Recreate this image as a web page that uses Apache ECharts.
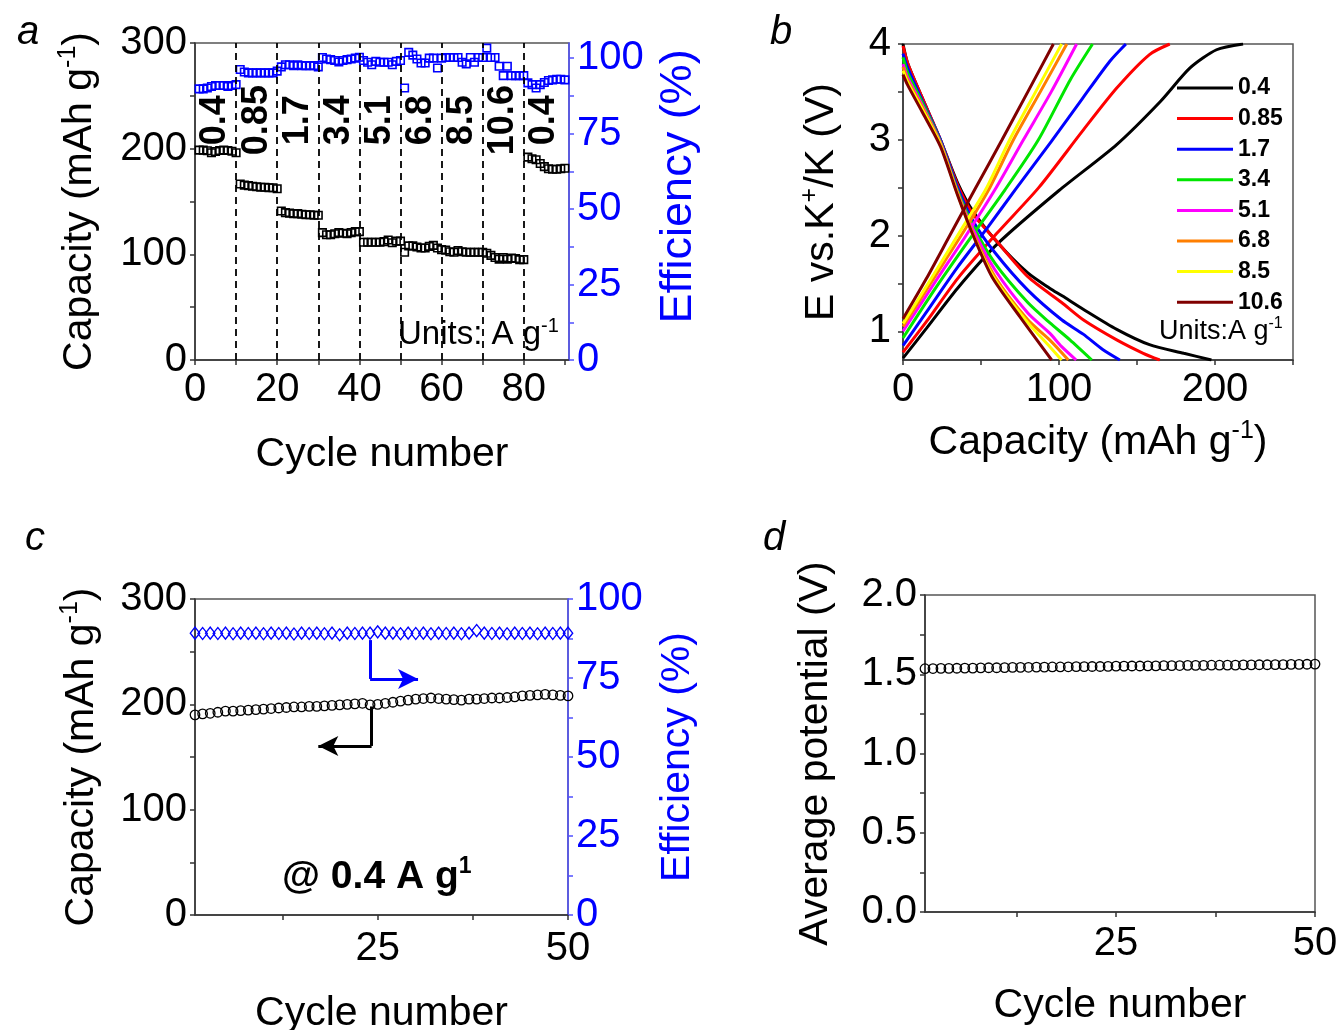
<!DOCTYPE html>
<html><head><meta charset="utf-8">
<script src="https://cdn.jsdelivr.net/npm/echarts@6/dist/echarts.min.js"></script>
<style>html,body{margin:0;padding:0;background:#fff}#c{width:1341px;height:1030px}</style>
</head><body><div id="c"></div>
<script>
// ---------- Panel a: rate capability ----------
const rateLabels = ['0.4','0.85','1.7','3.4','5.1','6.8','8.5','10.6','0.4'];
const rateDividers = [10,20,30,40,50,60,70,80];
const rateCapacity = [
 198.6,198.6,198.0,196.1,197.3,198.3,198.6,198.3,197.6,196.1,
 166.5,165.5,165.0,164.5,164.0,163.5,163.5,163.0,163.0,162.0,
 141.0,139.5,139.0,138.5,138.5,138.0,137.5,137.5,137.0,137.0,
 120.5,118.5,118.5,119.5,120.5,120.0,119.5,120.5,121.5,121.5,
 111.5,111.5,111.5,111.5,111.5,112.0,113.5,111.0,112.5,112.5,
 102.0,108.0,108.0,107.0,106.0,106.0,107.5,108.5,106.0,104.5,
 104.0,102.5,102.0,103.5,102.5,102.0,102.0,102.0,102.0,102.0,
 101.0,99.0,97.0,95.5,97.0,95.5,96.5,96.0,95.0,95.0,
 192.0,190.5,189.5,186.0,183.0,181.0,180.5,180.5,181.0,181.5];
const rateEfficiency = [
 89.8,89.8,90.1,90.6,90.9,90.9,90.9,90.6,90.9,91.2,
 96.2,95.4,95.1,95.1,95.1,95.1,95.1,95.1,95.1,95.7,
 97.1,97.8,97.8,97.5,97.8,97.5,97.5,97.5,97.5,97.1,
 100.2,99.7,99.5,99.2,98.7,99.2,99.5,99.7,100.0,100.3,
 99.2,98.6,97.8,98.9,98.6,98.6,98.6,97.8,98.9,99.2,
 90.1,101.9,101.0,99.7,98.4,98.4,100.0,100.0,96.7,100.0,
 100.2,100.2,100.2,100.2,98.6,98.1,100.2,98.6,100.2,100.2,
 103.3,100.2,100.2,97.3,94.2,97.3,94.2,94.2,94.2,94.2,
 91.8,91.2,90.1,91.2,91.9,92.6,92.8,93.0,93.0,92.8];

// ---------- Panel b: charge/discharge profiles ----------
const gcdRates = ['0.4','0.85','1.7','3.4','5.1','6.8','8.5','10.6'];
const gcdColors = ['#000000','#ff0000','#0000ff','#00e600','#ff00ff','#ff7f00','#ffff00','#800000'];
const chargeCurves = [
 [[0,0.72],[15,1.03],[35,1.45],[61,1.92],[100,2.47],[137,2.95],[165,3.4],[184,3.75],[201,3.94],[218,4.0]],
 [[0,0.78],[15,1.1],[35,1.55],[60,2.02],[87,2.5],[115,3.09],[137,3.54],[158,3.89],[171,4.0]],
 [[0,0.85],[15,1.2],[35,1.67],[55,2.1],[72,2.48],[95,2.98],[115,3.43],[132.6,3.82],[142.9,4.0]],
 [[0,0.93],[20,1.43],[40,1.9],[65.5,2.48],[86.8,3.0],[107,3.62],[121.5,4.0]],
 [[0,1.0],[20,1.5],[40,1.99],[59,2.48],[77.2,3.0],[95,3.5],[111.3,4.0]],
 [[0,1.05],[20,1.56],[40,2.07],[55,2.48],[70.8,3.0],[88,3.5],[105,4.0]],
 [[0,1.08],[20,1.6],[38,2.08],[53,2.48],[68.4,3.0],[85,3.5],[101.7,4.0]],
 [[0,1.13],[15,1.55],[30,2.0],[46,2.48],[63.5,3.0],[80,3.5],[96.4,4.0]]];
const dischargeCurves = [
 [[0,4.0],[3,3.8],[12,3.45],[24,3.0],[35,2.55],[45,2.25],[61,1.92],[80,1.61],[94,1.45],[102,1.37],[115.5,1.23],[137,1.02],[158,0.86],[180,0.77],[197.7,0.7]],
 [[0,3.98],[3,3.8],[12,3.45],[24,3.0],[35,2.53],[45,2.22],[59,1.96],[80,1.57],[101.7,1.30],[115.5,1.12],[137,0.91],[154,0.77],[164.6,0.70]],
 [[0,3.9],[3,3.75],[12,3.42],[24,3.0],[35,2.5],[45,2.15],[59,1.82],[80,1.43],[101.7,1.12],[115.5,0.97],[128,0.81],[139,0.7]],
 [[0,3.86],[3,3.7],[12,3.4],[24,2.98],[35,2.47],[45,2.1],[59,1.71],[80,1.30],[94,1.09],[107,0.91],[121,0.7]],
 [[0,3.79],[3,3.65],[12,3.37],[24,2.97],[35,2.45],[45,2.06],[59,1.64],[80,1.19],[94,0.98],[101.7,0.84],[111,0.7]],
 [[0,3.76],[3,3.62],[12,3.35],[24,2.96],[35,2.44],[45,2.02],[59,1.57],[80,1.12],[94,0.91],[106,0.7]],
 [[0,3.72],[3,3.6],[12,3.33],[24,2.95],[35,2.43],[45,2.0],[59,1.54],[80,1.09],[94,0.84],[101.7,0.7]],
 [[0,3.68],[3,3.57],[12,3.3],[24,2.93],[35,2.42],[45,2.0],[57,1.57],[75,1.15],[95.3,0.7]]];

// ---------- Panel c: cycling at 0.4 A/g ----------
const cycCapacity = [
 190,191,191.5,192.5,193.5,193.5,194,194.5,195,195.5,
 196,196.5,197,197.5,197.5,198,198,198.5,199,199.5,
 200,200.5,201,199.5,200,201,202,203,204,205,
 205.5,206,205.5,205,204.5,204,205,205,205.5,206,
 206,206.5,207,208,208.5,209,209.5,209,208.5,208];
const cycEfficiency = [
 89.2,89.1,89.2,89.1,89.2,89.0,89.2,89.1,89.2,89.0,
 89.2,89.1,89.2,88.9,89.2,89.1,89.2,89.0,89.2,88.7,
 89.2,89.1,89.2,89.2,89.6,89.2,89.2,89.0,89.2,89.1,
 89.2,89.0,89.2,89.1,89.2,89.0,89.2,90.0,89.2,89.1,
 89.2,89.0,89.2,89.1,89.2,89.0,89.2,89.1,89.2,89.2];

// ---------- Panel d: average potential ----------
const avgPotential = [
 1.535,1.536,1.537,1.537,1.538,1.539,1.539,1.540,1.541,1.541,
 1.542,1.543,1.543,1.544,1.545,1.545,1.546,1.546,1.547,1.548,
 1.548,1.549,1.549,1.550,1.551,1.551,1.552,1.552,1.553,1.553,
 1.554,1.554,1.555,1.556,1.556,1.556,1.557,1.557,1.558,1.558,
 1.559,1.559,1.560,1.560,1.561,1.561,1.562,1.562,1.563,1.564];

// ================= chart =================
const FONT = "'Liberation Sans', Arial, sans-serif";
const AX = '#333';
const BLUE = '#0000ff';
const pair = (arr, start) => arr.map((v, i) => [i + start, v]);

function supRich(size, color, bold) {
  return {
    sup: {fontSize: Math.round(size * 0.6), lineHeight: Math.round(size * 0.6), verticalAlign: 'top',
          color: color, fontFamily: FONT, fontWeight: bold ? 'bold' : 'normal'}
  };
}
function nameStyle(size, color, padding) {
  return {fontFamily: FONT, fontSize: size, color: color, lineHeight: size + 6, padding: padding || 0, rich: supRich(size, color)};
}
function valAxis(o) {
  const color = o.color || '#000';
  const lineColor = o.lineColor || AX;
  return {
    type: 'value', gridIndex: o.grid, position: o.position, min: o.min, max: o.max,
    name: o.name, nameLocation: 'middle', nameGap: o.nameGap, nameRotate: o.rotate,
    nameTextStyle: nameStyle(o.nameSize || 41, color, o.namePad),
    axisLine: {show: true, onZero: false, lineStyle: {color: lineColor, width: 1.5}},
    axisTick: {show: true, customValues: o.ticks, length: 5, inside: false, lineStyle: {color: lineColor, width: 1.5}},
    axisLabel: {show: true, customValues: o.labels, color: color, fontFamily: FONT, fontSize: o.labelSize || 40,
                margin: o.margin || 8, formatter: o.fmt || (v => String(v))},
    splitLine: {show: false}
  };
}
const range = (a, b, s) => { const r = []; for (let v = a; v <= b + 1e-9; v += s) r.push(+v.toFixed(4)); return r; };

const grids = [
  {left: 195, top: 43, width: 374, height: 317},
  {left: 903, top: 44, width: 390, height: 316},
  {left: 195, top: 599, width: 373, height: 316},
  {left: 925, top: 595, width: 390, height: 317}
].map(g => Object.assign(g, {show: true, borderColor: '#555', borderWidth: 1.5, backgroundColor: 'transparent',
                             containLabel: false, outerBoundsMode: 'none'}));

const xAxis = [
  valAxis({grid: 0, min: 0, max: 91, ticks: range(0, 90, 10), labels: [0,20,40,60,80], name: 'Cycle number', nameGap: 71, margin: 10}),
  valAxis({grid: 1, min: 0, max: 250, ticks: range(0, 250, 50), labels: [0,100,200], name: 'Capacity (mAh g{sup|-1})', nameGap: 59, margin: 10}),
  valAxis({grid: 2, min: 1, max: 50, ticks: [12.5,25,37.5,50], labels: [25,50], name: 'Cycle number', nameGap: 75, margin: 14}),
  valAxis({grid: 3, min: 1, max: 50, ticks: [12.5,25,37.5,50], labels: [25,50], name: 'Cycle number', nameGap: 70, margin: 12})
];
const yAxis = [
  valAxis({grid: 0, position: 'left', min: 0, max: 300, ticks: range(0, 300, 50), labels: [0,100,200,300], name: 'Capacity (mAh g{sup|-1})', nameGap: 92, rotate: 90}),
  valAxis({grid: 0, position: 'right', min: 0, max: 105, ticks: range(0, 100, 12.5), labels: [0,25,50,75,100], name: 'Efficiency (%)', nameGap: 84, rotate: 90, color: BLUE, lineColor: '#5050ff', nameSize: 45, namePad: [0, 0, 0, 30]}),
  valAxis({grid: 1, position: 'left', min: 0.7, max: 4, ticks: range(1, 4, 0.5), labels: [1,2,3,4], name: 'E vs.K{sup|+}/K (V)', nameGap: 58, rotate: 90, margin: 12}),
  valAxis({grid: 2, position: 'left', min: 0, max: 300, ticks: range(0, 300, 50), labels: [0,100,200,300], name: 'Capacity (mAh g{sup|-1})', nameGap: 90, rotate: 90}),
  valAxis({grid: 2, position: 'right', min: 0, max: 100, ticks: range(0, 100, 12.5), labels: [0,25,50,75,100], name: 'Efficiency (%)', nameGap: 86, rotate: 90, color: BLUE, lineColor: '#5050ff'}),
  valAxis({grid: 3, position: 'left', min: 0, max: 2, ticks: range(0, 2, 0.25), labels: [0,0.5,1,1.5,2], name: 'Average potential (V)', nameGap: 86, rotate: 90, fmt: v => v.toFixed(1)})
];

const hollow = (c, w) => ({color: 'rgba(255,255,255,0)', borderColor: c, borderWidth: w, opacity: 1});
const series = [];
// panel a
series.push({
  type: 'scatter', name: 'Capacity', xAxisIndex: 0, yAxisIndex: 0, data: pair(rateCapacity, 1),
  symbol: 'rect', symbolSize: [7.5, 7.5], silent: true, itemStyle: hollow('#000', 1.6),
  markLine: {silent: true, symbol: ['none','none'], label: {show: false},
    lineStyle: {color: '#000', type: [7, 5], width: 1.8, opacity: 1}, data: rateDividers.map(x => ({xAxis: x}))}
});
series.push({
  type: 'scatter', name: 'Efficiency', xAxisIndex: 0, yAxisIndex: 1, data: pair(rateEfficiency, 1),
  symbol: 'rect', symbolSize: [7.5, 7.5], silent: true, itemStyle: hollow(BLUE, 1.6)
});
series.push({
  type: 'scatter', name: 'rateText', xAxisIndex: 0, yAxisIndex: 0, silent: true, symbolSize: 1,
  itemStyle: {opacity: 0},
  data: rateLabels.map((t, i) => ({value: [i * 10 + 5, 227], label: {formatter: t}})),
  label: {show: true, position: 'inside', rotate: 90, fontFamily: FONT, fontSize: 36, fontWeight: 'bold',
          color: '#000', opacity: 1, textBorderWidth: 0, textBorderColor: 'transparent'},
  z: 5
});
// panel b
gcdRates.forEach((r, i) => {
  [chargeCurves[i], dischargeCurves[i]].forEach(d => {
    series.push({
      type: 'line', name: r, xAxisIndex: 1, yAxisIndex: 2, data: d, showSymbol: false, symbol: 'none',
      smooth: 0.25, silent: true, z: 2 + i * 0.01,
      lineStyle: {color: gcdColors[i], width: 3}, itemStyle: {color: gcdColors[i]}
    });
  });
});
// panel c
series.push({
  type: 'scatter', name: 'CycCap', xAxisIndex: 2, yAxisIndex: 3, data: pair(cycCapacity, 1),
  symbol: 'circle', symbolSize: 9.5, silent: true, itemStyle: hollow('#000', 1.3),
  markLine: {silent: true, label: {show: false}, symbolSize: [15, 20],
    lineStyle: {color: '#000', type: 'solid', width: 3, opacity: 1},
    data: [
      [{coord: [24.2, 198], symbol: 'none'}, {coord: [24.2, 160.5], symbol: 'none'}],
      [{coord: [24.2, 160.5], symbol: 'none'}, {coord: [17.2, 160.5], symbol: 'arrow'}]
    ]}
});
series.push({
  type: 'scatter', name: 'CycEff', xAxisIndex: 2, yAxisIndex: 4, data: pair(cycEfficiency, 1),
  symbol: 'diamond', symbolSize: [9.5, 12], silent: true, itemStyle: hollow(BLUE, 1.3),
  markLine: {silent: true, label: {show: false}, symbolSize: [15, 20],
    lineStyle: {color: BLUE, type: 'solid', width: 3, opacity: 1},
    data: [
      [{coord: [24, 87], symbol: 'none'}, {coord: [24, 74.7], symbol: 'none'}],
      [{coord: [24, 74.7], symbol: 'none'}, {coord: [30.3, 74.7], symbol: 'arrow'}]
    ]}
});
// panel d
series.push({
  type: 'scatter', name: 'AvgPot', xAxisIndex: 3, yAxisIndex: 5, data: pair(avgPotential, 1),
  symbol: 'circle', symbolSize: 9.5, silent: true, itemStyle: hollow('#000', 1.3)
});

const panelLabel = (t, l, tp) => ({text: t, left: l, top: tp, textStyle: {fontFamily: FONT, fontSize: 40, fontStyle: 'italic', fontWeight: 'normal', color: '#000'}});
const titles = [
  panelLabel('a', 12, 8), panelLabel('b', 765, 8), panelLabel('c', 20, 514), panelLabel('d', 758, 514),
  {text: 'Units: A g{sup|-1}', left: 393, top: 311,
   textStyle: {fontFamily: FONT, fontSize: 33, fontWeight: 'normal', color: '#000', lineHeight: 37, rich: supRich(33, '#000')}},
  {text: 'Units:A g{sup|-1}', left: 1154, top: 311,
   textStyle: {fontFamily: FONT, fontSize: 27, fontWeight: 'normal', color: '#000', lineHeight: 31, rich: supRich(27, '#000')}},
  {text: '@ 0.4 A g{sup|1}', left: 277, top: 850,
   textStyle: {fontFamily: FONT, fontSize: 39, fontWeight: 'bold', color: '#000', lineHeight: 44, rich: supRich(39, '#000', true)}}
];

const chart = echarts.init(document.getElementById('c'), null, {renderer: 'canvas'});
chart.setOption({
  animation: false,
  backgroundColor: '#fff',
  title: titles,
  grid: grids,
  xAxis: xAxis,
  yAxis: yAxis,
  legend: {
    data: gcdRates, orient: 'vertical', left: 1172, top: 71.5, icon: 'rect', itemWidth: 56, itemHeight: 3,
    itemGap: 7.6, selectedMode: false,
    textStyle: {fontFamily: FONT, fontSize: 23, fontWeight: 'bold', color: '#000', lineHeight: 22}
  },
  series: series
});
</script></body></html>
